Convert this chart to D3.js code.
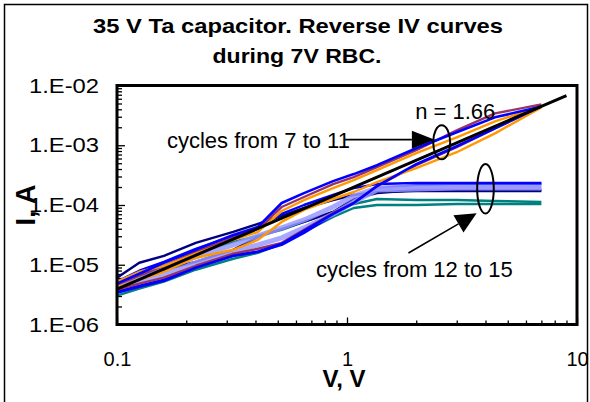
<!DOCTYPE html>
<html>
<head>
<meta charset="utf-8">
<script src="https://cdn.jsdelivr.net/npm/d3@7"></script>
<style>
  body { margin: 0; background: #fff; }
  svg text { font-family: Arial, "Liberation Sans", sans-serif; fill: #000; }
</style>
</head>
<body>
<div id="chart"></div>
<script>
// sweep voltages (V), shared by every cycle
const volts = [0.1, 0.125, 0.16, 0.22, 0.32, 0.41, 0.52, 0.65, 0.87, 1.07, 1.35, 2, 3, 4.4, 7];

// cycles 7 to 11 (currents in A, up / down sweep)
const blueA_up   = [4.82e-6, 7.08e-6, 1.08e-5, 1.78e-5, 3.16e-5, 4.30e-5, 1.08e-4, 1.58e-4, 2.51e-4, 3.29e-4, 4.64e-4, 8.91e-4, 1.65e-3, 2.93e-3, 4.47e-3];
const blueA_down = [3.41e-6, 4.30e-6, 5.41e-6, 8.91e-6, 1.41e-5, 1.65e-5, 2.24e-5, 3.69e-5, 7.08e-5, 1.08e-4, 2.07e-4, 4.82e-4, 9.62e-4, 1.92e-3, 4.47e-3];
const orange_up   = [5.21e-6, 7.64e-6, 9.62e-6, 1.53e-5, 2.61e-5, 3.55e-5, 7.94e-5, 1.21e-4, 1.92e-4, 2.61e-4, 3.83e-4, 7.36e-4, 1.36e-3, 2.51e-3, 4.47e-3];
const orange_down = [4.14e-6, 5.62e-6, 7.64e-6, 1.31e-5, 1.78e-5, 2.61e-5, 5.21e-5, 8.25e-5, 1.26e-4, 1.65e-4, 2.42e-4, 4.14e-4, 7.64e-4, 1.58e-3, 4.30e-3];
const purple_up   = [4.64e-6, 6.56e-6, 9.62e-6, 1.65e-5, 2.82e-5, 3.98e-5, 9.26e-5, 1.36e-4, 2.24e-4, 2.93e-4, 4.30e-4, 8.25e-4, 1.78e-3, 3.41e-3, 4.82e-3];
const purple_down = [3.83e-6, 4.82e-6, 6.07e-6, 9.62e-6, 1.53e-5, 1.85e-5, 2.33e-5, 3.83e-5, 7.36e-5, 1.08e-4, 2.07e-4, 4.64e-4, 9.26e-4, 1.92e-3, 4.47e-3];

// cycles 12 to 15
const navy_up     = [6.07e-6, 1.08e-5, 1.41e-5, 2.33e-5, 3.55e-5, 4.82e-5, 6.56e-5, 8.91e-5, 1.21e-4, 1.47e-4, 1.65e-4, 1.71e-4, 1.71e-4, 1.71e-4, 1.71e-4];
const navy_down   = [5.01e-6, 6.56e-6, 8.25e-6, 1.12e-5, 1.78e-5, 2.93e-5, 3.98e-5, 5.21e-5, 7.64e-5, 1.26e-4, 1.58e-4, 1.78e-4, 1.78e-4, 1.78e-4, 1.78e-4];
const blueB_up    = [5.21e-6, 7.94e-6, 1.12e-5, 1.85e-5, 3.04e-5, 4.14e-5, 7.08e-5, 1.00e-4, 1.47e-4, 1.92e-4, 2.24e-4, 2.33e-4, 2.33e-4, 2.33e-4, 2.33e-4];
const blueB_down  = [3.55e-6, 4.47e-6, 5.62e-6, 9.26e-6, 1.41e-5, 1.65e-5, 2.15e-5, 3.41e-5, 6.81e-5, 1.08e-4, 1.92e-4, 2.15e-4, 2.24e-4, 2.24e-4, 2.24e-4];
const lav_up      = [4.82e-6, 6.56e-6, 8.91e-6, 1.36e-5, 2.15e-5, 3.04e-5, 4.14e-5, 5.62e-5, 9.26e-5, 1.41e-4, 1.92e-4, 2.00e-4, 2.00e-4, 2.00e-4, 2.00e-4];
const lav_down    = [4.14e-6, 5.21e-6, 6.81e-6, 1.08e-5, 1.65e-5, 2.15e-5, 2.82e-5, 4.14e-5, 7.08e-5, 1.12e-4, 1.78e-4, 1.85e-4, 1.92e-4, 1.92e-4, 1.92e-4];
const teal_up     = [3.83e-6, 6.81e-6, 9.62e-6, 1.53e-5, 2.42e-5, 3.04e-5, 3.83e-5, 5.21e-5, 7.64e-5, 1.04e-4, 1.26e-4, 1.21e-4, 1.21e-4, 1.17e-4, 1.12e-4];
const teal_down   = [3.04e-6, 3.98e-6, 5.21e-6, 8.25e-6, 1.26e-5, 1.58e-5, 2.24e-5, 3.55e-5, 6.31e-5, 8.91e-5, 1.00e-4, 1.00e-4, 1.04e-4, 1.04e-4, 1.04e-4];

// power-law fit, n = 1.66
const fitV = [0.1, 9];
const fitI = [3.9e-6, 6.8e-3];

// axis ticks
const xMajor = [0.1, 1, 10];
const yMajor = [1e-6, 1e-5, 1e-4, 1e-3, 1e-2];
const yLabels = ["1.E-06", "1.E-05", "1.E-04", "1.E-03", "1.E-02"];

const W = 590, H = 402;
const svg = d3.select("#chart").append("svg")
    .attr("width", W)
    .attr("height", H);

// outer frame
svg.append("rect")
    .attr("x", 4.5).attr("y", 4.5)
    .attr("width", 583).attr("height", 400)
    .attr("fill", "none").attr("stroke", "#000").attr("stroke-width", 1.5);

let x = d3.scaleLog().domain([0.1, 10]).range([117, 577]);
let y = d3.scaleLog().domain([1e-6, 1e-2]).range([324.5, 85.5]);

// title
svg.append("text").attr("x", 298).attr("y", 33)
    .attr("text-anchor", "middle")
    .attr("textLength", 410).attr("lengthAdjust", "spacingAndGlyphs")
    .style("font-size", "21px").style("font-weight", "bold")
    .text("35 V Ta capacitor. Reverse IV curves");
svg.append("text").attr("x", 297).attr("y", 63)
    .attr("text-anchor", "middle")
    .attr("textLength", 169).attr("lengthAdjust", "spacingAndGlyphs")
    .style("font-size", "21px").style("font-weight", "bold")
    .text("during 7V RBC.");

// minor ticks
let xMinor = [], yMinor = [];
[0.1, 1].forEach(d => { for (let k = 2; k <= 9; k++) xMinor.push(d * k); });
[1e-6, 1e-5, 1e-4, 1e-3].forEach(d => { for (let k = 2; k <= 9; k++) yMinor.push(d * k); });

function tickAxis(axis, tr) {
    let g = svg.append("g").attr("transform", tr).call(axis);
    g.select(".domain").remove();
    g.selectAll("line").attr("stroke", "#000").attr("stroke-width", 1.3);
    return g;
}
tickAxis(d3.axisBottom(x).tickValues(xMinor).tickSize(-4).tickFormat(""), "translate(0,324.5)");
tickAxis(d3.axisBottom(x).tickValues(xMajor).tickSize(-7).tickFormat(""), "translate(0,324.5)");
tickAxis(d3.axisLeft(y).tickValues(yMinor).tickSize(-5).tickFormat(""), "translate(117,0)");
tickAxis(d3.axisLeft(y).tickValues(yMajor).tickSize(-8).tickFormat(""), "translate(117,0)");

// tick labels
let xl = svg.append("g").attr("transform", "translate(0,324.5)")
    .call(d3.axisBottom(x).tickValues(xMajor).tickSize(0).tickPadding(27).tickFormat(d3.format("")));
xl.select(".domain").remove();
xl.selectAll("text").style("font-size", "20px").attr("fill", "#000");

let yl = svg.append("g").attr("transform", "translate(117,0)")
    .call(d3.axisLeft(y).tickValues(yMajor).tickSize(0).tickPadding(18)
        .tickFormat((d, i) => yLabels[i]));
yl.select(".domain").remove();
yl.selectAll("text").style("font-size", "21px").attr("fill", "#000")
    .attr("textLength", 70).attr("lengthAdjust", "spacingAndGlyphs");

// axis titles
svg.append("text").attr("x", 344).attr("y", 387)
    .attr("text-anchor", "middle")
    .style("font-size", "24px").style("font-weight", "bold")
    .text("V, V");
svg.append("text")
    .attr("transform", "translate(35,205) rotate(-90)")
    .attr("text-anchor", "middle")
    .style("font-size", "27px").style("font-weight", "bold")
    .text("I, A");

// curves
const series = [
    { c: "#008080", w: 2.4, o: 1, i: teal_down },
    { c: "#008080", w: 2.4, o: 1, i: teal_up },
    { c: "#000080", w: 2.4, o: 1, i: navy_down },
    { c: "#000080", w: 2.4, o: 1, i: navy_up },
    { c: "#0000ff", w: 2.4, o: 1, i: blueB_down },
    { c: "#0000ff", w: 2.4, o: 1, i: blueB_up },
    { c: "#9999ff", w: 5, o: 0.85, i: lav_down },
    { c: "#9999ff", w: 5, o: 0.85, i: lav_up },
    { c: "#993366", w: 2.4, o: 1, i: purple_down },
    { c: "#993366", w: 2.4, o: 1, i: purple_up },
    { c: "#ff9900", w: 2.4, o: 1, i: orange_down },
    { c: "#ff9900", w: 2.4, o: 1, i: orange_up },
    { c: "#0000ff", w: 2.6, o: 1, i: blueA_down },
    { c: "#0000ff", w: 2.6, o: 1, i: blueA_up }
];

let line = d3.line()
    .x((d, k) => x(volts[k]))
    .y(d => y(d));

let plot = svg.append("g");
series.forEach(s => {
    plot.append("path")
        .attr("d", line(s.i))
        .attr("fill", "none")
        .attr("stroke", s.c)
        .attr("stroke-width", s.w)
        .attr("stroke-opacity", s.o)
        .attr("stroke-linejoin", "round");
});

// fit line
plot.append("line")
    .attr("x1", x(fitV[0])).attr("y1", y(fitI[0]))
    .attr("x2", x(fitV[1])).attr("y2", y(fitI[1]))
    .attr("stroke", "#000").attr("stroke-width", 3);

// plot frame
svg.append("rect")
    .attr("x", 117).attr("y", 85.5)
    .attr("width", 460).attr("height", 239)
    .attr("fill", "none").attr("stroke", "#000").attr("stroke-width", 3);

// annotations (placed in data units)
function arrow(v0, i0, v1, i1, len, half) {
    let x0 = x(v0), y0 = y(i0), x1 = x(v1), y1 = y(i1);
    let dx = x1 - x0, dy = y1 - y0, L = Math.hypot(dx, dy);
    let ux = dx / L, uy = dy / L;
    let bx = x1 - ux * len, by = y1 - uy * len;
    svg.append("line")
        .attr("x1", x0).attr("y1", y0).attr("x2", bx).attr("y2", by)
        .attr("stroke", "#000").attr("stroke-width", 1.6);
    svg.append("path")
        .attr("d", `M${x1},${y1}L${bx - uy * half},${by + ux * half}L${bx + uy * half},${by - ux * half}Z`)
        .attr("fill", "#000");
}

svg.append("ellipse")
    .attr("cx", x(2.58)).attr("cy", y(1.12e-3))
    .attr("rx", 8.5).attr("ry", 17)
    .attr("fill", "none").attr("stroke", "#000").attr("stroke-width", 2);
svg.append("ellipse")
    .attr("cx", x(4.0)).attr("cy", y(1.87e-4))
    .attr("rx", 8.3).attr("ry", 24.7)
    .attr("fill", "none").attr("stroke", "#000").attr("stroke-width", 2);

arrow(0.98, 1.24e-3, 2.41, 1.24e-3, 23, 9);
arrow(1.85, 1.57e-5, 3.66, 7.28e-5, 21, 10);

svg.append("text").attr("x", x(1.98)).attr("y", y(2.71e-3))
    .style("font-size", "22px").text("n = 1.66");
svg.append("text").attr("x", x(1.03)).attr("y", y(8.91e-4))
    .attr("text-anchor", "end")
    .style("font-size", "22px").text("cycles from 7 to 11");
svg.append("text").attr("x", x(0.733)).attr("y", y(6.31e-6))
    .style("font-size", "22px").text("cycles from 12 to 15");
</script>
</body>
</html>
